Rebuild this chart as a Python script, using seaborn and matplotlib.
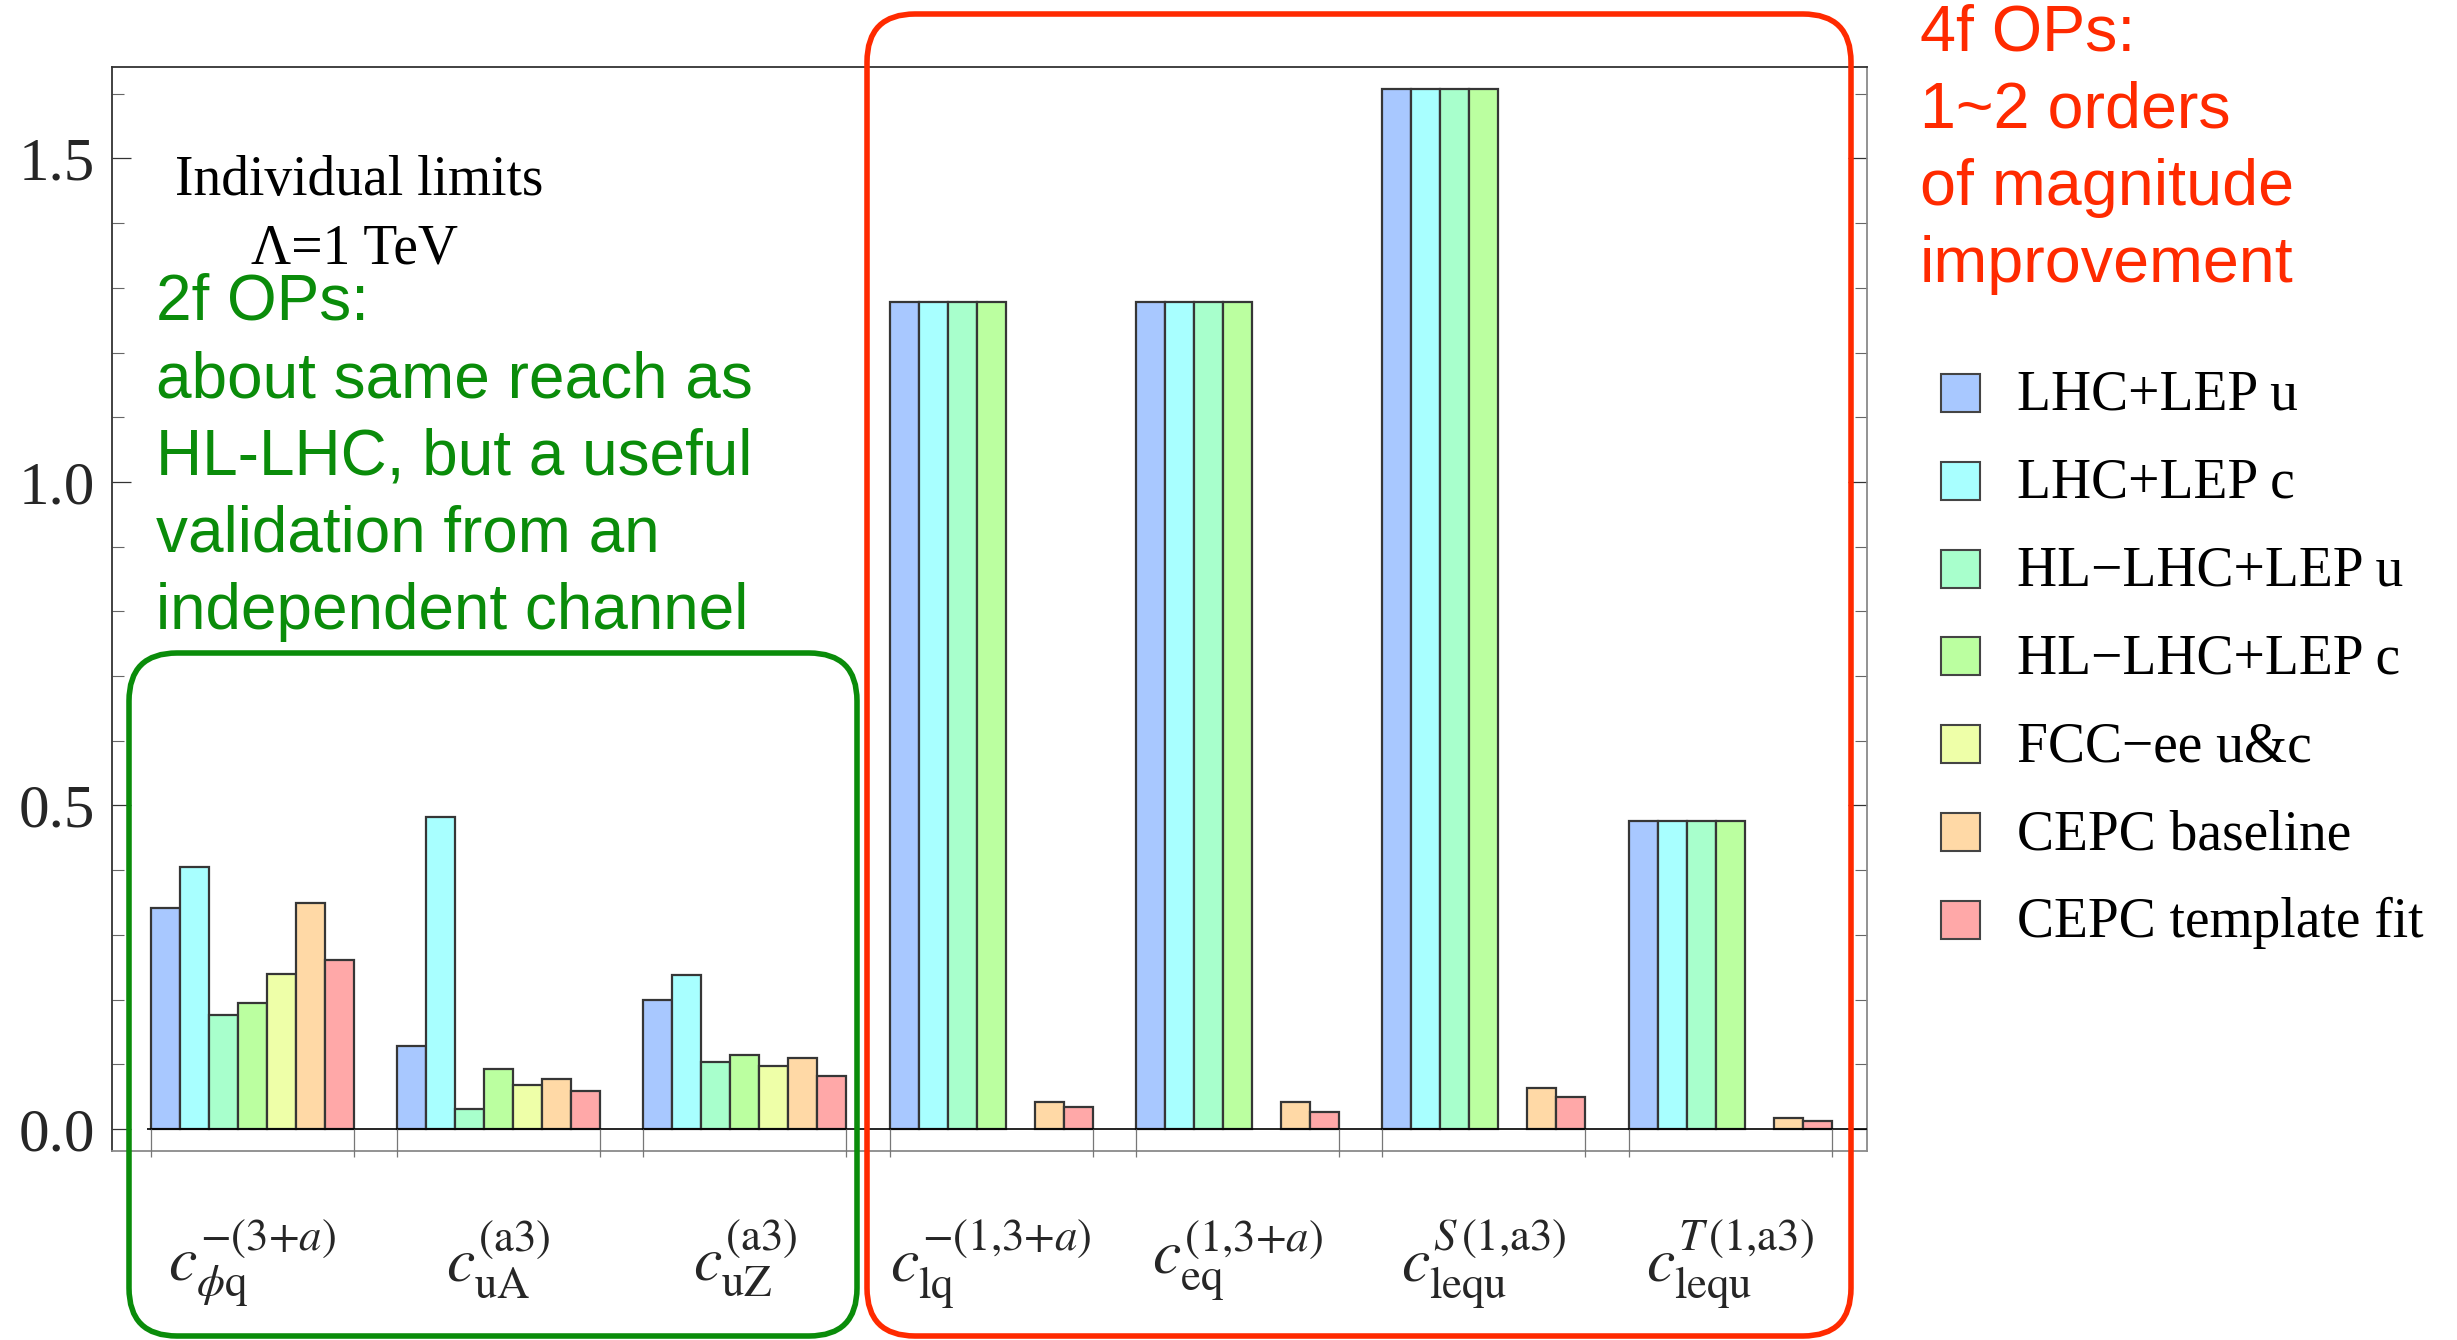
import numpy as np
import pandas as pd
import matplotlib
matplotlib.use("Agg")
import matplotlib.pyplot as plt
from matplotlib.patches import FancyBboxPatch, Rectangle
from matplotlib.ticker import MultipleLocator, FixedLocator
import seaborn as sns

# ---- data -------------------------------------------------------------
coefficients = [
    r"$c_{\phi\mathrm{q}}^{-(3{+}a)}$",
    r"$c_{\mathrm{uA}}^{(\mathrm{a3})}$",
    r"$c_{\mathrm{uZ}}^{(\mathrm{a3})}$",
    r"$c_{\mathrm{lq}}^{-(1{,}3{+}a)}$",
    r"$c_{\mathrm{eq}}^{(1{,}3{+}a)}$",
    r"$c_{\mathrm{lequ}}^{S\,(1{,}\mathrm{a3})}$",
    r"$c_{\mathrm{lequ}}^{T\,(1{,}\mathrm{a3})}$",
]
series = [
    "LHC+LEP u",
    "LHC+LEP c",
    "HL\u2212LHC+LEP u",
    "HL\u2212LHC+LEP c",
    "FCC\u2212ee u&c",
    "CEPC baseline",
    "CEPC template fit",
]
lhc_lep_u = [0.341, 0.129, 0.199, 1.278, 1.278, 1.607, 0.476]
lhc_lep_c = [0.405, 0.482, 0.238, 1.278, 1.278, 1.607, 0.476]
hllhc_lep_u = [0.176, 0.031, 0.104, 1.278, 1.278, 1.607, 0.476]
hllhc_lep_c = [0.194, 0.093, 0.114, 1.278, 1.278, 1.607, 0.476]
fccee_uc = [0.240, 0.068, 0.097, np.nan, np.nan, np.nan, np.nan]
cepc_baseline = [0.349, 0.077, 0.109, 0.042, 0.042, 0.064, 0.0175]
cepc_template = [0.261, 0.059, 0.082, 0.034, 0.027, 0.050, 0.013]
series_values = [lhc_lep_u, lhc_lep_c, hllhc_lep_u, hllhc_lep_c,
                 fccee_uc, cepc_baseline, cepc_template]

colors = ["#a8c8ff", "#a8ffff", "#a8ffcc", "#bbffa0",
          "#eeffa8", "#ffd9a6", "#ffa8a8"]

ytick_values = [0.0, 0.5, 1.0, 1.5]
ytick_labels = ["0.0", "0.5", "1.0", "1.5"]

rows = []
for name, vals in zip(series, series_values):
    for coef, v in zip(coefficients, vals):
        rows.append({"coef": coef, "series": name, "value": v})
df = pd.DataFrame(rows).dropna()

# ---- style ------------------------------------------------------------
sns.set_theme(style="white")
plt.rcParams["font.family"] = ["Liberation Serif", "DejaVu Serif"]
plt.rcParams["mathtext.fontset"] = "stix"

W, H = 2457, 1340
fig = plt.figure(figsize=(W / 100, H / 100), dpi=100)
ax = fig.add_axes([112 / W, 1 - 1151 / H, 1755 / W, 1084 / H])

group_width = 0.824
sns.barplot(data=df, x="coef", y="value", hue="series",
            order=coefficients, hue_order=series, palette=colors,
            width=group_width, gap=0, dodge=True, errorbar=None,
            saturation=1, edgecolor="#363636", linewidth=1.6,
            legend=False, ax=ax)

ax.set_xlim(-0.569, 6.556)
ax.set_ylim(-0.034, 1.6414)
ax.set_xlabel("")
ax.set_ylabel("")

# y axis: ticks on both sides, pointing inward
ax.yaxis.set_major_locator(FixedLocator(ytick_values))
ax.set_yticklabels(ytick_labels)
ax.yaxis.set_minor_locator(MultipleLocator(0.1))
ax.tick_params(axis="y", which="major", direction="in", left=True, right=True,
               length=13.5, width=0.9, color="#333333", labelsize=44, pad=12)
ax.tick_params(axis="y", which="minor", direction="in", left=True, right=True,
               length=8.4, width=0.8, color="#666666")
ax.tick_params(axis="x", which="both", length=0, labelsize=46, pad=48)

for side, col in (("left", "#333333"), ("top", "#333333"),
                  ("right", "#8a8a8a"), ("bottom", "#8a8a8a")):
    ax.spines[side].set_visible(True)
    ax.spines[side].set_color(col)
    ax.spines[side].set_linewidth(1.3)

# zero line and group-edge ticks
ax.hlines(0, -group_width / 2 - 0.015, 6.556, color="black", lw=1.2, zorder=4)
for i in range(len(coefficients)):
    ax.vlines([i - group_width / 2, i + group_width / 2], -0.0433, 0,
              color="#777777", lw=0.9, clip_on=False, zorder=4)

# ---- annotations --------------------------------------------------------
def fx(x):
    return x / W


def fy(y):
    return 1 - y / H


fig.text(fx(175), fy(195.5), "Individual limits", fontsize=40,
         va="baseline", ha="left", color="black")
fig.text(fx(251), fy(264), "\u039b=1 TeV", fontsize=40,
         va="baseline", ha="left", color="black")

green = "#0a8c0a"
red = "#ff2a00"
green_lines = ["2f OPs:", "about same reach as", "HL-LHC, but a useful",
               "validation from an", "independent channel"]
for k, line in enumerate(green_lines):
    fig.text(fx(156), fy(319.7 + 77.3 * k), line, fontsize=46,
             family=["Liberation Sans", "DejaVu Sans"], color=green,
             va="baseline", ha="left")

red_lines = ["4f OPs:", "1~2 orders", "of magnitude", "improvement"]
for k, line in enumerate(red_lines):
    fig.text(fx(1920), fy(50.7 + 77.2 * k), line, fontsize=46.5,
             family=["Liberation Sans", "DejaVu Sans"], color=red,
             va="baseline", ha="left")

# rounded frames (pixel positions converted to inches)
inch = fig.dpi_scale_trans
green_box = FancyBboxPatch((129 / 100, (H - 1336) / 100), (857 - 129) / 100,
                           (1336 - 653) / 100,
                           boxstyle="round,pad=0,rounding_size=0.48",
                           transform=inch, fill=False, ec=green, lw=4,
                           zorder=6)
red_box = FancyBboxPatch((867 / 100, (H - 1336) / 100), (1851 - 867) / 100,
                         (1336 - 14) / 100,
                         boxstyle="round,pad=0,rounding_size=0.48",
                         transform=inch, fill=False, ec=red, lw=4, zorder=6)
fig.add_artist(green_box)
fig.add_artist(red_box)

# legend
for k, (name, col) in enumerate(zip(series, colors)):
    cy = 393 + 87.8 * k
    sq = Rectangle((1941 / 100, (H - cy - 19) / 100), 0.39, 0.38,
                   transform=inch, fc=col, ec="#444444", lw=1.5)
    fig.add_artist(sq)
    fig.text(fx(2017), fy(cy + 17), name, fontsize=40,
             va="baseline", ha="left", color="black")

fig.savefig("out.png", dpi=100)
